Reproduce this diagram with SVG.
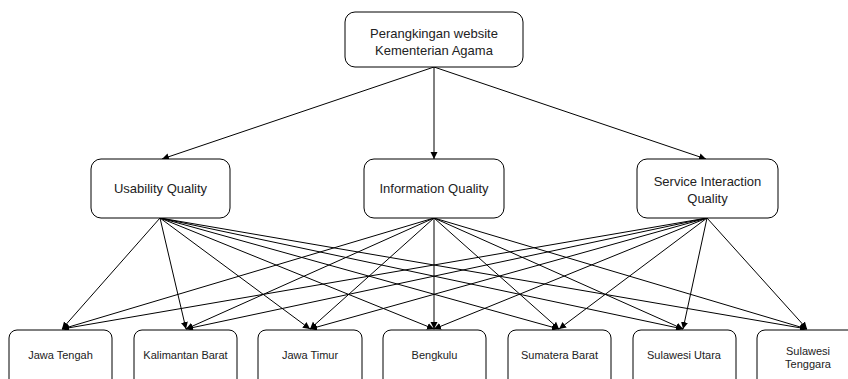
<svg xmlns="http://www.w3.org/2000/svg" width="848" height="379" viewBox="0 0 848 379">
<style>
.box{fill:#fff;stroke:#000;stroke-width:1}
.t{font-family:"Liberation Sans",Arial,sans-serif;font-size:13px;fill:#222;text-anchor:middle}
.s{font-family:"Liberation Sans",Arial,sans-serif;font-size:11px;fill:#222;text-anchor:middle}
.e{stroke:#000;stroke-width:1;fill:none;marker-end:url(#a)}
</style>
<defs>
<marker id="a" markerUnits="userSpaceOnUse" markerWidth="8" markerHeight="8" refX="7" refY="4" orient="auto">
<path d="M0,0.5 L7,4 L0,7.5 Z" fill="#000"/>
</marker>
</defs>
<rect width="848" height="379" fill="#fff"/>
<g id="edges">
<line class="e" x1="434" y1="67" x2="162" y2="159"/>
<line class="e" x1="434" y1="67" x2="434" y2="159"/>
<line class="e" x1="434" y1="67" x2="706" y2="159"/>
<line class="e" x1="160" y1="218" x2="62" y2="329"/>
<line class="e" x1="160" y1="218" x2="186" y2="329"/>
<line class="e" x1="160" y1="218" x2="310" y2="329"/>
<line class="e" x1="160" y1="218" x2="434" y2="329"/>
<line class="e" x1="160" y1="218" x2="559" y2="329"/>
<line class="e" x1="160" y1="218" x2="683" y2="329"/>
<line class="e" x1="160" y1="218" x2="807" y2="329"/>
<line class="e" x1="434" y1="218" x2="62" y2="329"/>
<line class="e" x1="434" y1="218" x2="186" y2="329"/>
<line class="e" x1="434" y1="218" x2="310" y2="329"/>
<line class="e" x1="434" y1="218" x2="434" y2="329"/>
<line class="e" x1="434" y1="218" x2="559" y2="329"/>
<line class="e" x1="434" y1="218" x2="683" y2="329"/>
<line class="e" x1="434" y1="218" x2="807" y2="329"/>
<line class="e" x1="707" y1="218" x2="62" y2="329"/>
<line class="e" x1="707" y1="218" x2="186" y2="329"/>
<line class="e" x1="707" y1="218" x2="310" y2="329"/>
<line class="e" x1="707" y1="218" x2="434" y2="329"/>
<line class="e" x1="707" y1="218" x2="559" y2="329"/>
<line class="e" x1="707" y1="218" x2="683" y2="329"/>
<line class="e" x1="707" y1="218" x2="807" y2="329"/>
</g>
<g id="n-top"><rect class="box" x="345" y="12" width="178" height="55" rx="10"/><text class="t" x="434" y="38">Perangkingan website</text><text class="t" x="434" y="55">Kementerian Agama</text></g>
<g id="n-usability"><rect class="box" x="91" y="159" width="139" height="59" rx="10"/><text class="t" x="160.5" y="193">Usability Quality</text></g>
<g id="n-information"><rect class="box" x="364" y="159" width="140" height="59" rx="10"/><text class="t" x="434" y="193">Information Quality</text></g>
<g id="n-service"><rect class="box" x="637" y="159" width="141" height="59" rx="10"/><text class="t" x="707.5" y="186">Service Interaction</text><text class="t" x="707.5" y="203">Quality</text></g>
<g id="n-jateng"><rect class="box" x="9" y="330" width="103" height="60" rx="8"/><text class="s" x="60.5" y="359">Jawa Tengah</text></g>
<g id="n-kalbar"><rect class="box" x="134" y="330" width="103" height="60" rx="8"/><text class="s" x="185.5" y="359">Kalimantan Barat</text></g>
<g id="n-jatim"><rect class="box" x="258" y="330" width="104" height="60" rx="8"/><text class="s" x="310" y="359">Jawa Timur</text></g>
<g id="n-bengkulu"><rect class="box" x="383" y="330" width="103" height="60" rx="8"/><text class="s" x="434.5" y="359">Bengkulu</text></g>
<g id="n-sumbar"><rect class="box" x="508" y="330" width="103" height="60" rx="8"/><text class="s" x="559.5" y="359">Sumatera Barat</text></g>
<g id="n-sulut"><rect class="box" x="633" y="330" width="103" height="60" rx="8"/><text class="s" x="684" y="359">Sulawesi Utara</text></g>
<g id="n-sultra"><rect class="box" x="757" y="330" width="103" height="60" rx="8"/><text class="s" x="808" y="355">Sulawesi</text><text class="s" x="808" y="368">Tenggara</text></g>
</svg>
